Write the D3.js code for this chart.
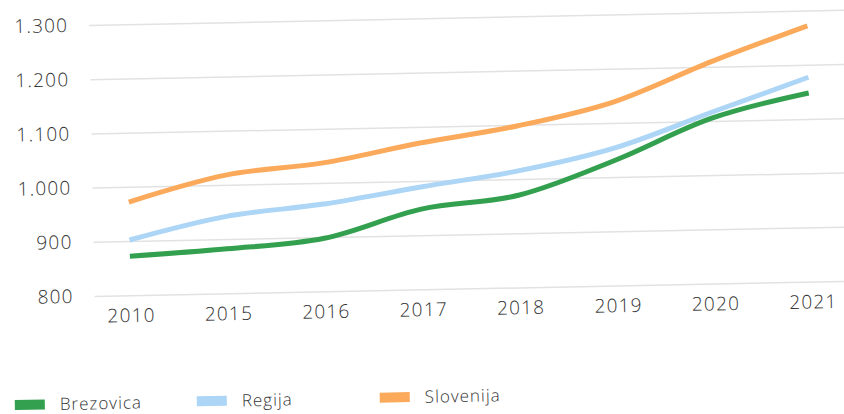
<!DOCTYPE html>
<html>
<head>
<meta charset="utf-8">
<script src="https://cdn.jsdelivr.net/npm/d3@7"></script>
<style>
  body { margin: 0; background: #fff; }
  text { font-family: "Open Sans", sans-serif; font-weight: 300; fill: #333; }
</style>
</head>
<body>
<div id="chart"></div>
<script>
// data
var years = ["2010", "2015", "2016", "2017", "2018", "2019", "2020", "2021"];
var brezovica = [872, 882, 898, 948, 970, 1031, 1105, 1148];
var regija = [902, 942, 961, 989, 1015, 1054, 1116, 1177];
var slovenija = [972, 1018, 1037, 1070, 1098, 1139, 1209, 1272];
var yTicks = [800, 900, 1000, 1100, 1200, 1300];

var series = [
  { name: "Slovenija", values: slovenija, color: "#fbaa5b" },
  { name: "Regija", values: regija, color: "#acd5f6" },
  { name: "Brezovica", values: brezovica, color: "#32a04e" }
];
var legendOrder = ["Brezovica", "Regija", "Slovenija"];

var svgWidth = 844;
var svgHeight = 414;

var svg = d3.select("#chart")
  .append("svg")
  .attr("width", svgWidth)
  .attr("height", svgHeight);

// the scan is tilted a little, so the whole chart is too
var chartGroup = svg.append("g")
  .attr("transform", "rotate(-1.15, 460, 160)");

var xScale = d3.scalePoint()
  .domain(years)
  .range([128, 810]);

var yScale = d3.scaleLinear()
  .domain([800, 1300])
  .range([288.6, 17.6]);

// dot as thousands separator
var fmt = function(d) {
  return d3.format(",")(d).replace(",", ".");
};

// gridlines + y labels
var yAxis = chartGroup.append("g")
  .attr("transform", "translate(92, 0)")
  .call(d3.axisLeft(yScale)
    .tickValues(yTicks)
    .tickSize(-760)
    .tickPadding(21)
    .tickFormat(fmt));

yAxis.select(".domain").remove();
yAxis.selectAll(".tick line")
  .attr("stroke", "#e2e2e2")
  .attr("stroke-width", 1.5);
yAxis.selectAll(".tick text")
  .attr("font-size", 19)
  .attr("letter-spacing", 1.2)
  .attr("fill", "#333");

// x labels
var xAxis = chartGroup.append("g")
  .attr("transform", "translate(0, 298)")
  .call(d3.axisBottom(xScale).tickSize(0).tickPadding(4));

xAxis.select(".domain").remove();
xAxis.selectAll(".tick text")
  .attr("font-size", 19)
  .attr("letter-spacing", 1.2)
  .attr("fill", "#333");

var line = d3.line()
  .x(function(d, i) { return xScale(years[i]); })
  .y(function(d) { return yScale(d); })
  .curve(d3.curveMonotoneX);

chartGroup.selectAll(".series")
  .data(series)
  .enter()
  .append("path")
  .attr("class", "series")
  .attr("d", function(d) { return line(d.values); })
  .attr("fill", "none")
  .attr("stroke", function(d) { return d.color; })
  .attr("stroke-width", 5)
  .attr("stroke-linejoin", "round")
  .attr("stroke-linecap", "butt");

// legend
var legendX = [10, 192, 375];
var legend = chartGroup.selectAll(".legend")
  .data(legendOrder)
  .enter()
  .append("g")
  .attr("class", "legend")
  .attr("transform", function(d, i) { return `translate(${legendX[i]}, 396)`; });

legend.append("rect")
  .attr("x", 0)
  .attr("y", -5)
  .attr("width", 30)
  .attr("height", 10)
  .attr("fill", function(d) {
    return series.find(function(s) { return s.name === d; }).color;
  });

legend.append("text")
  .attr("x", 45)
  .attr("y", 0)
  .attr("dy", "0.35em")
  .attr("font-size", 17)
  .attr("letter-spacing", 1)
  .text(function(d) { return d; });
</script>
</body>
</html>
